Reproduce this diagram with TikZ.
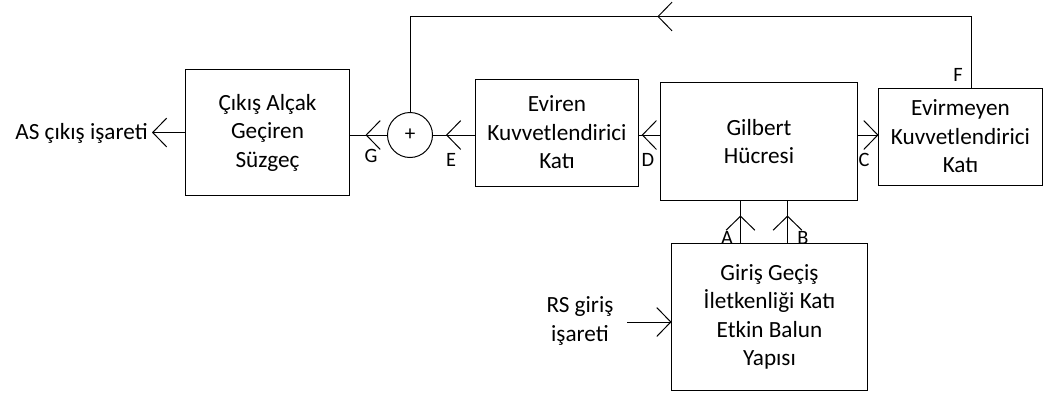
\documentclass[tikz,border=0pt]{standalone}
\usepackage{fontspec}
\setmainfont{Carlito}
\usetikzlibrary{arrows.meta, decorations.markings, positioning}

\tikzset{
  blok/.style={draw, line width=0.7pt, align=center, inner sep=0pt,
    font=\fontsize{16.5}{20.3}\selectfont},
  txt/.style={align=center, font=\fontsize{16.5}{20.3}\selectfont},
  lbl/.style={font=\fontsize{14.5}{16}\selectfont, inner sep=1pt},
  wire/.style={line width=0.7pt},
  barb/.tip={Straight Barb[length=0.35cm, width=0.72cm]},
  tipat/.style={postaction={decorate}, decoration={markings,
    mark=at position #1 with {\arrow{barb}}}},
}

\begin{document}
\begin{tikzpicture}[x=0.025cm, y=-0.025cm]
    \useasboundingbox (0,0) rectangle (1046,397);

    % bloklar
    \node[blok, minimum width=4.075cm, minimum height=3.15cm] (filt) at (267.5,132.5) {Çıkış Alçak\\Geçiren\\Süzgeç};
    \node[draw, wire, circle, minimum size=1.125cm, inner sep=0pt,
        font=\fontsize{15}{16}\selectfont] (sum) at (410,135) {+};
    \node[blok, minimum width=4.05cm, minimum height=2.675cm] (eviren) at (557,132.5) {Eviren\\Kuvvetlendirici\\Katı};
    \node[blok, minimum width=4.9cm, minimum height=2.925cm] (gilbert) at (759,141.5) {Gilbert\\Hücresi};
    \node[blok, minimum width=4.075cm, minimum height=2.425cm] (evirmeyen) at (960.5,136.5) {Evirmeyen\\Kuvvetlendirici\\Katı};
    \node[blok, minimum width=4.875cm, minimum height=3.65cm] (giris) at (769.5,317) {Giriş Geçiş\\İletkenliği Katı\\Etkin Balun\\Yapısı};

    % giris ve cikis metinleri
    \node[txt, anchor=east, inner sep=0.1cm] (as) at (152,133) {AS çıkış işareti};
    \node[txt] (rs) at (580,321) {RS giriş\\işareti};
    \coordinate (rsin) at (627,322);

    % baglantilar
    \draw[wire, -barb] (filt.west) -- (as.east |- filt.west);
    \draw[wire, tipat=-0.4cm] (sum.west) -- (filt.east |- sum.west);
    \draw[wire, tipat=-0.325cm] (eviren.west |- sum.east) -- (sum.east);
    \draw[wire, tipat=-0.08cm] (gilbert.west |- sum.east) -- (eviren.east |- sum.east);
    \draw[wire, -barb] (gilbert.east |- sum.east) -- (evirmeyen.west |- sum.east);
    \draw[wire, -barb] (rsin) -- (rsin -| giris.west);
    \draw[wire, tipat=-0.375cm] (giris.north west) ++(69,0) coordinate (a) -- (a |- gilbert.south);
    \draw[wire, tipat=-0.375cm] (giris.north west) ++(116,0) coordinate (b) -- (b |- gilbert.south);
    \draw[wire, tipat=9.625cm] (evirmeyen.north west) ++(93,0) coordinate (f) -- ++(0,-71) -| (sum.north);

    % etiketler
    \node[lbl] (lG) at (371,156) {G};
    \node[lbl] (lE) at (451,160) {E};
    \node[lbl] (lD) at (648,160) {D};
    \node[lbl] (lC) at (864,160) {C};
    \node[lbl] (lF) at (958,75) {F};
    \node[lbl] (lA) at (727,238) {A};
    \node[lbl] (lB) at (803,238) {B};
\end{tikzpicture}
\end{document}
